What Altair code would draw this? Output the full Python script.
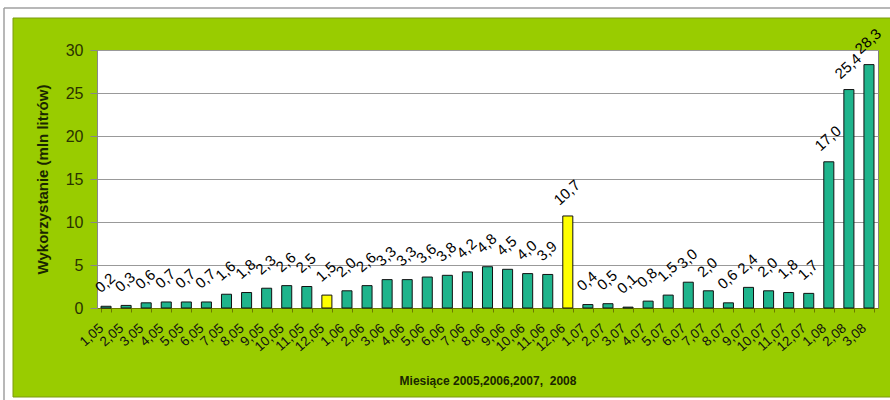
import altair as alt
import pandas as pd

months = ["1,05", "2,05", "3,05", "4,05", "5,05", "6,05", "7,05", "8,05", "9,05", "10,05", "11,05", "12,05",
          "1,06", "2,06", "3,06", "4,06", "5,06", "6,06", "7,06", "8,06", "9,06", "10,06", "11,06", "12,06",
          "1,07", "2,07", "3,07", "4,07", "5,07", "6,07", "7,07", "8,07", "9,07", "10,07", "11,07", "12,07",
          "1,08", "2,08", "3,08"]
values = [0.2, 0.3, 0.6, 0.7, 0.7, 0.7, 1.6, 1.8, 2.3, 2.6, 2.5, 1.5,
          2.0, 2.6, 3.3, 3.3, 3.6, 3.8, 4.2, 4.8, 4.5, 4.0, 3.9, 10.7,
          0.4, 0.5, 0.1, 0.8, 1.5, 3.0, 2.0, 0.6, 2.4, 2.0, 1.8, 1.7,
          17.0, 25.4, 28.3]
highlight = ["12,05", "12,06"]
y_ticks = [0, 5, 10, 15, 20, 25, 30]
y_title = "Wykorzystanie (mln litrów)"
x_title = "Miesiące 2005,2006,2007,\u00a0 2008"

W, H = 781, 258
FONT = "Liberation Sans"

df = pd.DataFrame({"month": months, "value": values})
df["kind"] = ["yellow" if m in highlight else "teal" for m in months]

x_enc = alt.X(
    "month:N", sort=months, title=x_title,
    scale=alt.Scale(paddingInner=0.5, paddingOuter=0.2),
    axis=alt.Axis(labelAngle=-42, labelAlign="right", labelBaseline="middle", labelFontSize=13.5,
                  labelPadding=14, labelOffset=-5, tickBand="extent", tickSize=4,
                  tickColor="#6b7a00", domainColor="#6b7a00", labelColor="#111111",
                  labelOverlap=False, grid=False, titleFontSize=12, titleFontWeight="bold",
                  titleY=72, titleBaseline="middle", titleColor="#1a2600"))
y_enc = alt.Y(
    "value:Q", title=y_title,
    scale=alt.Scale(domain=[0, 30], nice=False),
    axis=alt.Axis(values=y_ticks, labelFontSize=16, labelPadding=7, tickSize=7,
                  tickColor="#888888", domainColor="#888888", gridColor="#999999",
                  labelColor="#2a3300", titleFontSize=15, titleFontWeight="bold",
                  titleX=-55, titleY=H / 2, titleAngle=-90, titleBaseline="middle",
                  titleAlign="center", titleColor="#1a2600"))

bars = alt.Chart(df).mark_bar(stroke="#111111", strokeWidth=1).encode(
    x=x_enc, y=y_enc,
    color=alt.Color("kind:N", scale=alt.Scale(domain=["teal", "yellow"], range=["#1FB48C", "#FFFF00"]),
                    legend=None))

labels = alt.Chart(df).transform_calculate(
    label="replace(format(datum.value, '.1f'), '.', ',')"
).mark_text(angle=318, align="center", baseline="middle", dx=15, dy=-18,
            fontSize=15, color="#000000").encode(
    x=alt.X("month:N", sort=months), y="value:Q", text="label:N")

deco_df = pd.DataFrame({"d": [0]})
dec = alt.Chart(deco_df)
white_left = dec.mark_rect(color="white").encode(
    x=alt.value(-97), x2=alt.value(-84), y=alt.value(-50), y2=alt.value(H + 92))
white_top = dec.mark_rect(color="white").encode(
    x=alt.value(-97), x2=alt.value(W + 12), y=alt.value(-50), y2=alt.value(-32))
white_bot = dec.mark_rect(color="white").encode(
    x=alt.value(-97), x2=alt.value(W + 12), y=alt.value(H + 89), y2=alt.value(H + 92))
frame_v = dec.mark_rule(color="#a0a0a0", strokeWidth=1.5).encode(
    x=alt.value(-93), y=alt.value(-42), y2=alt.value(H + 92))
frame_h = dec.mark_rule(color="#a0a0a0", strokeWidth=1.5).encode(
    x=alt.value(-93), x2=alt.value(W + 12), y=alt.value(-42))
edge_v = dec.mark_rule(color="#7a9a10", strokeWidth=1).encode(
    x=alt.value(-84), y=alt.value(-32), y2=alt.value(H + 89))
edge_h = dec.mark_rule(color="#7a9a10", strokeWidth=1).encode(
    x=alt.value(-84), x2=alt.value(W + 12), y=alt.value(-32))
edge_b = dec.mark_rule(color="#7a9a10", strokeWidth=1).encode(
    x=alt.value(-84), x2=alt.value(W + 12), y=alt.value(H + 89))

chart = alt.layer(
    white_left, white_top, white_bot, frame_v, frame_h, edge_v, edge_h, edge_b, bars, labels
).properties(
    width=W, height=H,
    autosize=alt.AutoSizeParams(type="none"),
    padding={"left": 97, "top": 50, "right": 12, "bottom": 92},
    background="#99CC00",
).configure(font=FONT).configure_view(fill="white", stroke="#808080", strokeWidth=1)

chart.save("out.html", embed_options={"renderer": "svg", "actions": False})
